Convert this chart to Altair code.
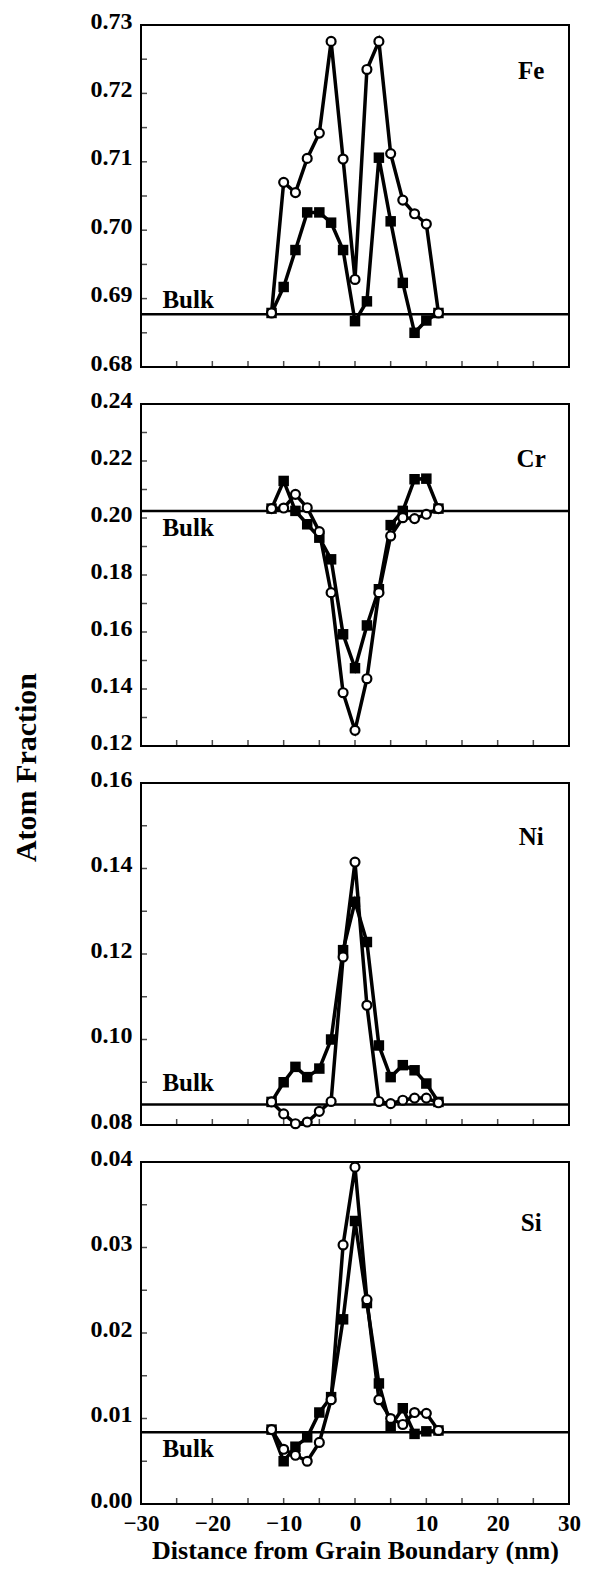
import altair as alt
import pandas as pd

FONT = "Liberation Serif"
W = 428
H = 342

# distance from grain boundary (nm)
x_nm = [-11.7, -10.0, -8.35, -6.7, -5.0, -3.35, -1.67, 0.0, 1.67, 3.35, 5.0, 6.7, 8.35, 10.0, 11.7]

fe_open = [0.6879, 0.7070, 0.7055, 0.7105, 0.7142, 0.7276, 0.7104, 0.6928, 0.7235, 0.7276, 0.7112, 0.7044, 0.7024, 0.7009, 0.6879]
fe_filled = [0.6879, 0.6917, 0.6971, 0.7026, 0.7026, 0.7011, 0.6971, 0.6867, 0.6896, 0.7106, 0.7013, 0.6923, 0.6850, 0.6868, 0.6879]
cr_open = [0.2033, 0.2035, 0.2083, 0.2036, 0.1952, 0.1738, 0.1387, 0.1255, 0.1436, 0.1738, 0.1937, 0.2001, 0.1998, 0.2013, 0.2033]
cr_filled = [0.2033, 0.2130, 0.2025, 0.1978, 0.1931, 0.1855, 0.1592, 0.1473, 0.1623, 0.1750, 0.1975, 0.2025, 0.2136, 0.2138, 0.2033]
ni_open = [0.0854, 0.0826, 0.0803, 0.0807, 0.0832, 0.0855, 0.1193, 0.1415, 0.1080, 0.0855, 0.0850, 0.0858, 0.0863, 0.0863, 0.0852]
ni_filled = [0.0854, 0.0900, 0.0936, 0.0912, 0.0932, 0.1000, 0.1209, 0.1322, 0.1228, 0.0986, 0.0912, 0.0940, 0.0928, 0.0897, 0.0854]
si_open = [0.0087, 0.0064, 0.0057, 0.0050, 0.0072, 0.0122, 0.0303, 0.0394, 0.0239, 0.0122, 0.0100, 0.0093, 0.0107, 0.0106, 0.0086]
si_filled = [0.0087, 0.0050, 0.0067, 0.0078, 0.0107, 0.0125, 0.0216, 0.0331, 0.0235, 0.0141, 0.0091, 0.0112, 0.0082, 0.0085, 0.0086]

elements = ["Fe", "Cr", "Ni", "Si"]
bulk_values = [0.6877, 0.2025, 0.0848, 0.0084]
y_domains = [[0.68, 0.73], [0.12, 0.24], [0.08, 0.16], [0.00, 0.04]]
y_labels = [
    [0.68, 0.69, 0.70, 0.71, 0.72, 0.73],
    [0.12, 0.14, 0.16, 0.18, 0.20, 0.22, 0.24],
    [0.08, 0.10, 0.12, 0.14, 0.16],
    [0.00, 0.01, 0.02, 0.03, 0.04],
]
y_ticks = [
    [0.685, 0.69, 0.695, 0.70, 0.705, 0.71, 0.715, 0.72, 0.725],
    [0.13, 0.14, 0.15, 0.16, 0.17, 0.18, 0.19, 0.20, 0.21, 0.22, 0.23],
    [0.09, 0.10, 0.11, 0.12, 0.13, 0.14, 0.15],
    [0.005, 0.01, 0.015, 0.02, 0.025, 0.03, 0.035],
]
x_labels = [-30, -20, -10, 0, 10, 20, 30]
x_ticks = [-25, -20, -15, -10, -5, 0, 5, 10, 15, 20, 25]
# annotation anchors in data units
name_x = [24.7, 24.7, 24.7, 24.7]
name_y = [0.7233, 0.2207, 0.1474, 0.0329]
bulk_text_x = [-27.0, -27.0, -27.0, -27.0]
bulk_text_y = [0.6898, 0.1965, 0.0898, 0.0064]
open_series = [fe_open, cr_open, ni_open, si_open]
filled_series = [fe_filled, cr_filled, ni_filled, si_filled]


def panel(i):
    last = i == 3
    df = pd.DataFrame({
        "x": x_nm + x_nm,
        "y": open_series[i] + filled_series[i],
        "s": ["open"] * len(x_nm) + ["filled"] * len(x_nm),
    })
    xscale = alt.Scale(domain=[-30, 30], nice=False, zero=False)
    yscale = alt.Scale(domain=y_domains[i], nice=False, zero=False)
    if last:
        xaxis = alt.Axis(values=x_labels, ticks=False, domain=False, grid=False,
                         labelFont=FONT, labelFontSize=23, labelFontWeight="bold",
                         labelColor="black", labelPadding=8, labelFlush=False,
                         title="Distance from Grain Boundary (nm)", titleFont=FONT,
                         titleFontSize=26, titleFontWeight="bold", titleColor="black",
                         titlePadding=2)
    else:
        xaxis = None
    yaxis_kw = dict(values=y_labels[i], format=".2f", ticks=False, domain=False, grid=False,
                    labelFont=FONT, labelFontSize=24, labelFontWeight="bold",
                    labelColor="black", labelPadding=9, labelOffset=-4)
    if i == 2:
        yaxis = alt.Axis(title="Atom Fraction", titleFont=FONT, titleFontSize=30,
                         titleFontWeight="bold", titleColor="black",
                         titleX=-115, titleY=-16, titleBaseline="middle", titleAlign="center",
                         **yaxis_kw)
    else:
        yaxis = alt.Axis(title=None, **yaxis_kw)

    X = alt.X("x:Q", scale=xscale, axis=xaxis)
    Y = alt.Y("y:Q", scale=yscale, axis=yaxis)

    base = alt.Chart(df)
    lines = base.mark_line(color="black", strokeWidth=3.5).encode(x=X, y=Y, detail="s:N")
    squares = base.transform_filter(alt.datum.s == "filled").mark_point(
        shape="square", filled=True, color="black", size=110, opacity=1).encode(x=X, y=Y)
    circles = base.transform_filter(alt.datum.s == "open").mark_point(
        shape="circle", filled=True, fill="white", stroke="black", strokeWidth=2.2,
        size=80, opacity=1).encode(x=X, y=Y)

    bulk_df = pd.DataFrame({"b": [bulk_values[i]]})
    bulk = alt.Chart(bulk_df).mark_rule(color="black", strokeWidth=2.5).encode(
        y=alt.Y("b:Q", scale=yscale, axis=yaxis))

    yt = alt.Chart(pd.DataFrame({"v": y_ticks[i]})).mark_tick(
        orient="horizontal", size=6, thickness=1.5, color="black").encode(
        y=alt.Y("v:Q", scale=yscale, axis=yaxis), x=alt.value(3))
    xt = alt.Chart(pd.DataFrame({"v": x_ticks})).mark_tick(
        orient="vertical", size=6, thickness=1.5, color="black").encode(
        x=alt.X("v:Q", scale=xscale, axis=xaxis), y=alt.value(H - 3))

    ann = pd.DataFrame({"x": [name_x[i]], "y": [name_y[i]], "t": [elements[i]]})
    name = alt.Chart(ann).mark_text(font=FONT, fontSize=25, fontWeight="bold",
                                    color="black", align="center", baseline="middle").encode(
        x=alt.X("x:Q", scale=xscale, axis=xaxis), y=alt.Y("y:Q", scale=yscale, axis=yaxis), text="t:N")
    bann = pd.DataFrame({"x": [bulk_text_x[i]], "y": [bulk_text_y[i]], "t": ["Bulk"]})
    btext = alt.Chart(bann).mark_text(font=FONT, fontSize=25, fontWeight="bold",
                                      color="black", align="left", baseline="middle").encode(
        x=alt.X("x:Q", scale=xscale, axis=xaxis), y=alt.Y("y:Q", scale=yscale, axis=yaxis), text="t:N")

    return alt.layer(bulk, yt, xt, lines, squares, circles, name, btext).properties(width=W, height=H)


chart = alt.vconcat(*[panel(i) for i in range(4)], spacing=37, bounds="flush").properties(
    padding={"left": 2, "top": 0, "right": 0, "bottom": 0}
).configure_view(stroke="black", strokeWidth=2).configure_axis(grid=False)

chart.save("out.html", embed_options={"renderer": "svg", "actions": False})
